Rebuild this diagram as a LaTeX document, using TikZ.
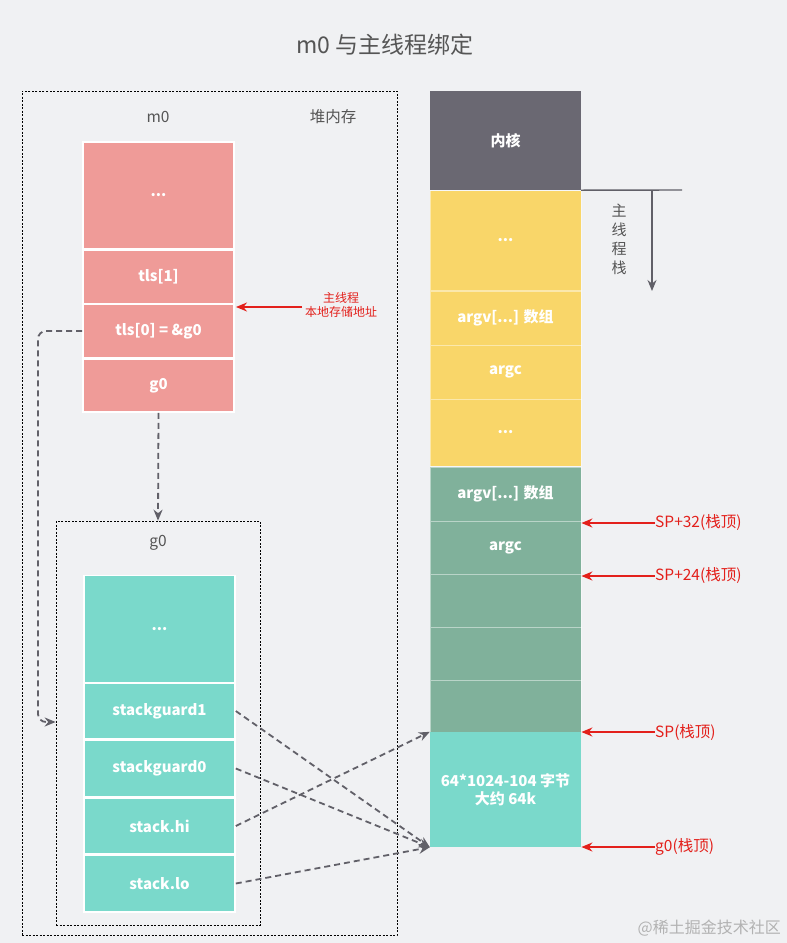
\documentclass[tikz,border=0pt]{standalone}
\usepackage{fontspec}
\setmainfont{Noto Sans CJK SC}
\usetikzlibrary{arrows.meta}
\definecolor{bgc}{HTML}{F0F1F3}
\definecolor{pinkc}{HTML}{EF9B98}
\definecolor{cyanc}{HTML}{7AD9CB}
\definecolor{yellowc}{HTML}{F9D669}
\definecolor{greenc}{HTML}{80B19B}
\definecolor{kernc}{HTML}{6A6872}
\definecolor{redc}{HTML}{E3201B}
\definecolor{dashc}{HTML}{616068}
\definecolor{txtc}{HTML}{555555}
\tikzset{
  fs/.style={font=\fontsize{#1}{#1}\selectfont},
  cell/.style={text=white, font=\fontsize{15}{15}\selectfont\bfseries, inner sep=0pt, minimum width=151pt},
  lcell/.style={cell, draw=white, line width=1.6pt},
  rcell/.style={cell, draw=white, draw opacity=0.45, line width=0.8pt},
  hdr/.style={text=txtc, fs=15.5, inner sep=0pt},
  redlab/.style={text=redc, fs=15.5, inner sep=0pt, anchor=west},
  redarr/.style={draw=redc, line width=1.6pt, -{Stealth[length=11pt,width=9pt]}},
  grayarr/.style={draw=dashc, line width=1.8pt, dash pattern=on 6pt off 4pt, -{Stealth[length=11pt,width=9pt]}},
  dotbox/.style={draw=black, line width=0.7pt, dash pattern=on 2pt off 1.5pt, inner sep=0pt},
}
\begin{document}
\begin{tikzpicture}[x=1pt,y=-1pt]
\fill[bgc] (0,0) rectangle (787,943);
\useasboundingbox (0,0) rectangle (787,943);

% title
\node[text=txtc, fs=23] (title) at (385,45) {m0 与主线程绑定};

% outer dashed box
\node[dotbox, minimum width=375pt, minimum height=844pt] (heap) at (209.5,513) {};
\node[hdr] (m0lab) at (158,117) {m0};
\node[hdr] (heaplab) at (333,117) {堆内存};

% m0 column
\node[lcell, fill=pinkc, minimum height=107pt] (m0a) at (158.5,195.5) {...};
\node[lcell, fill=pinkc, minimum height=53pt] (m0b) at (158.5,277) {tls[1]};
\node[lcell, fill=pinkc, minimum height=54pt] (m0c) at (158.5,331) {tls[0] = \&g0};
\node[lcell, fill=pinkc, minimum height=53pt] (m0d) at (158.5,385.5) {g0};

% red label for tls
\node[text=redc, fs=12, align=center, inner sep=0pt] (tlslab) at (341,305) {主线程\\[2pt]本地存储地址};
\coordinate (tlsfrom) at (302,307);
\coordinate (tlsto) at (236,307);
\draw[redarr] (tlsfrom) -- (tlsto);

% g0 box
\node[dotbox, minimum width=204pt, minimum height=404pt] (g0box) at (158,723) {};
\node[hdr] (g0lab) at (158,543) {g0};
\node[lcell, fill=cyanc, minimum height=107pt] (ga) at (159.5,629) {...};
\node[lcell, fill=cyanc, minimum height=56pt] (gb) at (159.5,711) {stackguard1};
\node[lcell, fill=cyanc, minimum height=57pt] (gc) at (159.5,768.5) {stackguard0};
\node[lcell, fill=cyanc, minimum height=56pt] (gd) at (159.5,826) {stack.hi};
\node[lcell, fill=cyanc, minimum height=57pt] (ge) at (159.5,883.5) {stack.lo};

% right stack column
\node[cell, fill=kernc, minimum height=99pt] (kern) at (505.5,140.5) {内核};
\node[rcell, fill=yellowc, minimum height=100pt] (y1) at (505.5,240.5) {...};
\node[rcell, fill=yellowc, minimum height=54pt] (y2) at (505.5,318) {argv[...] 数组};
\node[rcell, fill=yellowc, minimum height=54pt] (y3) at (505.5,372) {argc};
\node[rcell, fill=yellowc, minimum height=67pt] (y4) at (505.5,432.5) {...};
\node[rcell, fill=greenc, minimum height=54pt] (r1) at (505.5,494) {argv[...] 数组};
\node[rcell, fill=greenc, minimum height=53pt] (r2) at (505.5,547.5) {argc};
\node[rcell, fill=greenc, minimum height=53pt] (r3) at (505.5,600.5) {};
\node[rcell, fill=greenc, minimum height=53pt] (r4) at (505.5,653.5) {};
\node[rcell, fill=greenc, minimum height=52pt] (r5) at (505.5,706) {};
\node[cell, fill=cyanc, minimum height=115pt, align=center] (cy) at (505.5,789.5) {64*1024-104 字节\\[3pt]大约 64k};

% main thread stack marker
\coordinate (kr) at (682,190);
\draw[draw=dashc, line width=1.4pt] (kern.south east) -- (kr);
\coordinate (ka) at (652,191);
\coordinate (kb) at (652,291);
\draw[draw=dashc, line width=1.4pt, -{Stealth[length=11pt,width=9pt]}] (ka) -- (kb);
\node[text=txtc, fs=15, align=center, inner sep=0pt] (stlab) at (619,239) {主\\[4pt]线\\[4pt]程\\[4pt]栈};

% red SP labels
\node[redlab] (sp32) at (655,523) {SP+32(栈顶)};
\node[redlab] (sp24) at (655,576) {SP+24(栈顶)};
\node[redlab] (sp0) at (655,732) {SP(栈顶)};
\node[redlab] (g0top) at (655,847) {g0(栈顶)};
\draw[redarr] (sp32.west) -- (sp32.west -| r1.east);
\draw[redarr] (sp24.west) -- (sp24.west -| r1.east);
\draw[redarr] (sp0.west) -- (sp0.west -| r1.east);
\draw[redarr] (g0top.west) -- (g0top.west -| r1.east);

% gray dashed connectors
\coordinate (tc) at (38,722);
\draw[grayarr, rounded corners=8pt] (m0c.west) -| (tc) -- (tc -| g0box.west);
\draw[grayarr] (m0d.south) -- (g0box.north);
\draw[grayarr] (gb.east) -- (cy.south west);
\draw[grayarr] (gc.east) -- (cy.south west);
\draw[grayarr] (gd.east) -- (cy.north west);
\draw[grayarr] (ge.east) -- (cy.south west);

% watermark
\node[text=black!30, fs=16, inner sep=0pt, anchor=east] (wm) at (781,928) {@稀土掘金技术社区};
\end{tikzpicture}
\end{document}
